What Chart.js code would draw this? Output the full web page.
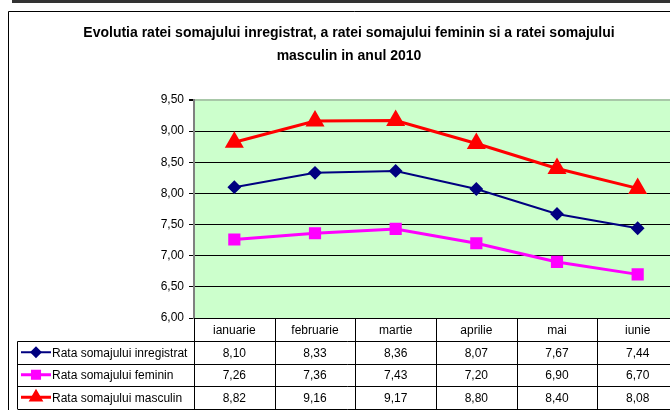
<!DOCTYPE html>
<html>
<head>
<meta charset="utf-8">
<script src="https://cdn.jsdelivr.net/npm/chart.js@4.4.1/dist/chart.umd.min.js"></script>
<style>
    html, body { margin: 0; padding: 0; background: #fff; overflow: hidden; }
    #wrap { width: 700px; height: 410px; }
</style>
</head>
<body>
<div id="wrap"><canvas id="chart" width="700" height="410"></canvas></div>
<script>
(function () {
    "use strict";

    // data
    const months = ["ianuarie", "februarie", "martie", "aprilie", "mai", "iunie"];
    const seriesNames = ["Rata somajului inregistrat", "Rata somajului feminin", "Rata somajului masculin"];
    const rataInregistrat = [8.10, 8.33, 8.36, 8.07, 7.67, 7.44];
    const rataFeminin = [7.26, 7.36, 7.43, 7.20, 6.90, 6.70];
    const rataMasculin = [8.82, 9.16, 9.17, 8.80, 8.40, 8.08];
    const titleLines = [
        "Evolutia ratei somajului inregistrat, a ratei somajului feminin si a ratei somajului",
        "masculin in anul 2010",
    ];

    const FONT = "'Liberation Sans', Arial, sans-serif";
    const fmt = v => Number(v).toFixed(2).replace(".", ",");

    // frame + plot background
    const backgroundPlugin = {
        id: "background",
        beforeDraw(chart) {
            const { ctx, chartArea: a } = chart;
            ctx.save();
            ctx.fillStyle = "#333";
            ctx.fillRect(12, 0, chart.width, 3);
            ctx.strokeStyle = "#000";
            ctx.lineWidth = 1;
            ctx.beginPath();
            ctx.moveTo(8.5, chart.height);
            ctx.lineTo(8.5, 11.5);
            ctx.lineTo(chart.width, 11.5);
            ctx.stroke();
            ctx.fillStyle = "#CCFFCC";
            ctx.fillRect(a.left, a.top, a.right - a.left, a.bottom - a.top);
            ctx.restore();
        },
    };

    // data table under the plot
    const tablePlugin = {
        id: "dataTable",
        afterDraw(chart) {
            const { ctx, chartArea: a } = chart;
            const x = chart.scales.x;
            const colW = (a.right - a.left) / months.length;
            const rows = [a.bottom, 341, 363.5, 386, 408.5];
            const left = 17.5;

            ctx.save();
            ctx.strokeStyle = "#000";
            ctx.lineWidth = 1;
            ctx.beginPath();
            for (let i = 1; i < rows.length; i++) {
                const y = Math.round(rows[i]) + 0.5;
                ctx.moveTo(left, y);
                ctx.lineTo(a.right, y);
            }
            ctx.moveTo(left, 341.5);
            ctx.lineTo(left, 409);
            for (let i = 0; i <= months.length; i++) {
                const cx = Math.round(a.left + i * colW) + 0.5;
                ctx.moveTo(cx, a.bottom);
                ctx.lineTo(cx, 409);
            }
            ctx.stroke();

            ctx.fillStyle = "#000";
            ctx.font = "12px " + FONT;
            ctx.textAlign = "center";
            ctx.textBaseline = "middle";
            months.forEach((m, i) => {
                ctx.fillText(m, x.getPixelForValue(i), (rows[0] + rows[1]) / 2 + 1);
            });

            chart.data.datasets.forEach((ds, r) => {
                const cy = (rows[r + 1] + rows[r + 2]) / 2 + 1;
                ds.data.forEach((v, i) => {
                    ctx.textAlign = "center";
                    ctx.fillText(fmt(v), x.getPixelForValue(i), cy);
                });
                // legend key
                ctx.strokeStyle = ds.borderColor;
                ctx.lineWidth = ds.borderWidth;
                ctx.beginPath();
                ctx.moveTo(21, cy - 1);
                ctx.lineTo(51, cy - 1);
                ctx.stroke();
                ctx.fillStyle = ds.pointBackgroundColor;
                ctx.strokeStyle = ds.pointBorderColor;
                Chart.helpers.drawPoint(ctx, {
                    pointStyle: ds.pointStyle,
                    radius: ds.legendRadius,
                    rotation: 0,
                    borderWidth: 1,
                }, 36, cy - 1);
                ctx.fillStyle = "#000";
                ctx.textAlign = "left";
                ctx.fillText(seriesNames[r], 52, cy);
            });
            ctx.restore();
        },
    };

    const ctx = document.getElementById("chart");
    new Chart(ctx.getContext("2d"), {
        type: "line",
        data: {
            labels: months,
            datasets: [
                {
                    label: seriesNames[0],
                    data: rataInregistrat,
                    borderColor: "#000080",
                    borderWidth: 2,
                    pointStyle: "rectRot",
                    pointRadius: 5.5,
                    legendRadius: 4.5,
                    pointBackgroundColor: "#000080",
                    pointBorderColor: "#000080",
                },
                {
                    label: seriesNames[1],
                    data: rataFeminin,
                    borderColor: "#FF00FF",
                    borderWidth: 3,
                    pointStyle: "rect",
                    pointRadius: 6.5,
                    legendRadius: 5,
                    pointBackgroundColor: "#FF00FF",
                    pointBorderColor: "#FF00FF",
                },
                {
                    label: seriesNames[2],
                    data: rataMasculin,
                    borderColor: "#FF0000",
                    borderWidth: 3,
                    pointStyle: "triangle",
                    pointRadius: 8,
                    legendRadius: 5.5,
                    pointBackgroundColor: "#FF0000",
                    pointBorderColor: "#FF0000",
                },
            ],
        },
        options: {
            responsive: false,
            animation: false,
            layout: { padding: { left: 20, right: 22, top: 0, bottom: 92 } },
            plugins: {
                legend: { display: false },
                tooltip: { enabled: false },
                title: {
                    display: true,
                    text: titleLines,
                    color: "#000",
                    font: { family: FONT, size: 14, weight: "bold", lineHeight: 1.64 },
                    padding: { top: 22, bottom: 32 },
                },
            },
            scales: {
                x: {
                    display: false,
                    offset: true,
                },
                y: {
                    min: 6,
                    max: 9.5,
                    afterFit(scale) { scale.width = 174; },
                    ticks: {
                        stepSize: 0.5,
                        color: "#000",
                        padding: 5,
                        font: { family: FONT, size: 12 },
                        callback: v => fmt(v),
                    },
                    grid: {
                        color: c => (c.tick && c.tick.value === 9.5 ? "#A8C8A8" : "#000"),
                        lineWidth: c => (c.tick && c.tick.value === 9.5 ? 2 : 1),
                        tickColor: "#000",
                        tickLength: 5,
                    },
                    border: { color: "#808080", width: 2 },
                },
            },
        },
        plugins: [backgroundPlugin, tablePlugin],
    });
})();
</script>
</body>
</html>
